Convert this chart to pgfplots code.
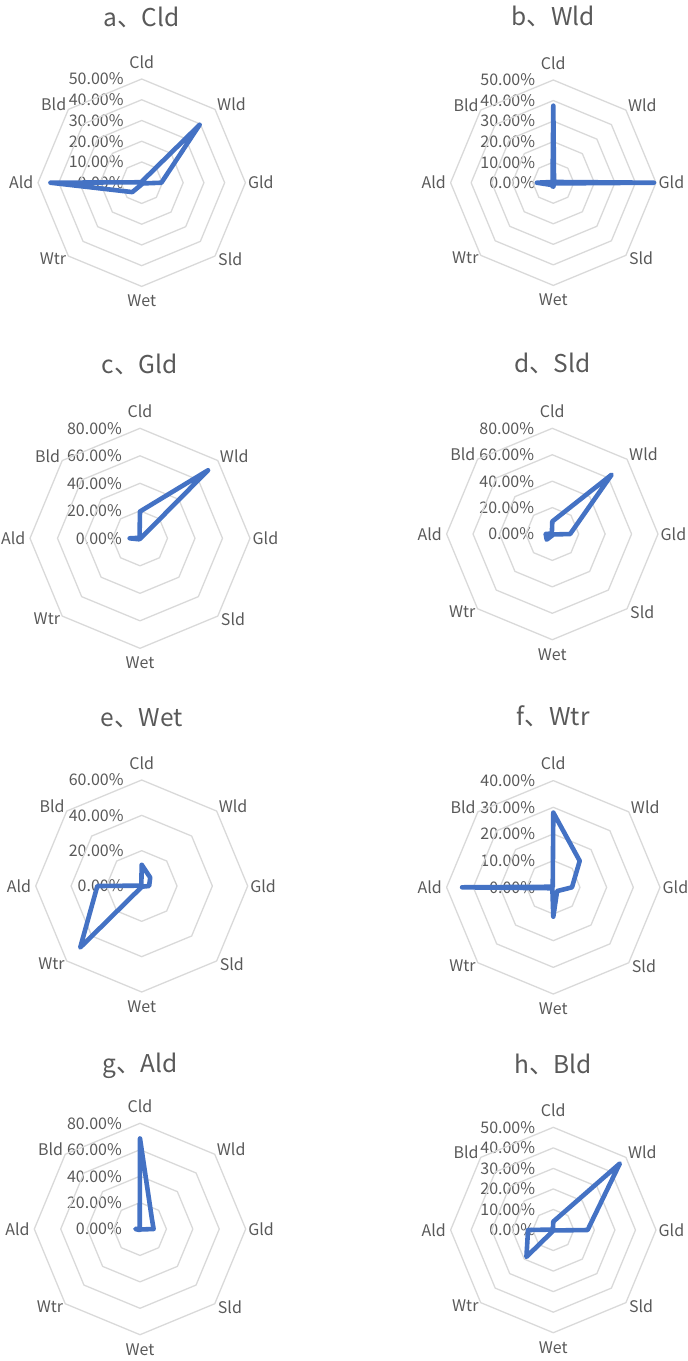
\documentclass[border=0pt]{standalone}
\usepackage{fontspec}
\usepackage{pgfplots}
\pgfplotsset{compat=1.18}
\usetikzlibrary{calc}
\newfontfamily\cjk{Noto Sans CJK SC}
\definecolor{txt}{HTML}{595959}
\definecolor{ringc}{HTML}{D9D9D9}
\definecolor{ser}{HTML}{4472C4}
\newcommand{\lf}{\cjk\fontsize{16}{18}\selectfont}
% #1 cx, #2 cy, #3 R, #4 max, #5 step, #6 title baseline y, #7 title, #8 data
\newcommand{\radar}[8]{%
  \pgfmathsetmacro\U{#3/#4}%
  \pgfmathsetmacro\V{0.7071*#3}%
  \pgfmathtruncatemacro\stepb{2*#5}%
  \coordinate (C) at (#1pt,-#2pt);
  \node[anchor=base, font=\cjk\fontsize{24.5}{28}\selectfont, text=txt, inner sep=0pt] at (#1pt,-#6pt) {#7};
  \foreach \v in {0,#5,...,#4} {%
    \pgfmathsetmacro\yy{-#2+\v*\U}%
    \node[anchor=east, font=\lf, text=txt, inner sep=0pt] at (#1pt-18pt,\yy pt) {\v.00\%};
  }
  \begin{axis}[at={(C)}, anchor=center, x=\U pt, y=\U pt,
    xmin=-#4, xmax=#4, ymin=-#4, ymax=#4, hide axis, clip=false, data cs=polar]
    \pgfplotsinvokeforeach{#5,\stepb,...,#4}{%
      \addplot[ringc, line width=1.3pt, line join=round, line cap=round, mark=none]
        coordinates {(90,##1) (45,##1) (0,##1) (-45,##1) (-90,##1) (-135,##1) (180,##1) (135,##1) (90,##1)};
    }
    \addplot[ser, line width=4.6pt, line join=round, line cap=round, mark=none] coordinates {#8};
  \end{axis}
  \node[anchor=base, font=\lf, text=txt, inner sep=0pt] at ($(C)+(0pt,#3pt+11pt)$) {Cld};
  \node[anchor=base west, font=\lf, text=txt, inner sep=0pt] at ($(C)+(\V pt+2pt,\V pt-1.5pt)$) {Wld};
  \node[anchor=west, font=\lf, text=txt, inner sep=0pt] at ($(C)+(#3pt+2.5pt,0pt)$) {Gld};
  \node[anchor=north west, font=\lf, text=txt, inner sep=0pt] at ($(C)+(\V pt+3pt,-\V pt+3.5pt)$) {Sld};
  \node[anchor=north, font=\lf, text=txt, inner sep=0pt] at ($(C)+(0pt,-#3pt-8.5pt)$) {Wet};
  \node[anchor=north east, font=\lf, text=txt, inner sep=0pt] at ($(C)+(-\V pt-2pt,-\V pt+3.5pt)$) {Wtr};
  \node[anchor=east, font=\lf, text=txt, inner sep=0pt] at ($(C)+(-#3pt-4.5pt,0pt)$) {Ald};
  \node[anchor=base east, font=\lf, text=txt, inner sep=0pt] at ($(C)+(-\V pt-2pt,\V pt-1.5pt)$) {Bld};
}
\begin{document}
\begin{tikzpicture}
\useasboundingbox (0,0) rectangle (688pt,-1361pt);
\radar{141.7}{182.7}{103.7}{50}{10}{26}{a、Cld}{(90,0.5) (45,39.5) (0,9.5) (-45,0.5) (-90,0.8) (-135,6.4) (180,44) (135,0.3) (90,0.5)}
\radar{553.3}{182.7}{102.7}{50}{10}{25}{b、Wld}{(90,37.5) (45,0.5) (0,49) (-45,0.5) (-90,2) (-135,1.5) (180,8) (135,0.5) (90,37.5)}
\radar{140}{538.3}{110}{80}{20}{373}{c、Gld}{(90,19.5) (45,70) (0,0.5) (-45,0.3) (-90,0.3) (-135,1) (180,7.5) (135,0.5) (90,19.5)}
\radar{552.3}{534}{105.7}{80}{20}{372}{d、Sld}{(90,9.5) (45,63.5) (0,13.5) (-45,0.5) (-90,1) (-135,6) (180,5) (135,0.5) (90,9.5)}
\radar{141.7}{886}{106}{60}{20}{726}{e、Wet}{(90,12) (45,6.8) (0,4.2) (-45,0.5) (-90,0.5) (-135,49.2) (180,25.1) (135,0.3) (90,12)}
\radar{553.3}{887.3}{106.7}{40}{10}{725}{f、Wtr}{(90,28) (45,14) (0,7) (-45,2) (-90,11) (-135,0.5) (180,34.2) (135,0.3) (90,28)}
\radar{140}{1229}{105.7}{80}{20}{1072}{g、Ald}{(90,68.5) (45,12.5) (0,10.3) (-45,0.5) (-90,0.5) (-135,1) (180,3.5) (135,0.3) (90,68.5)}
\radar{553.3}{1230}{102.7}{50}{10}{1073}{h、Bld}{(90,4.1) (45,45.8) (0,16.7) (-45,0.3) (-90,0.3) (-135,18.5) (180,12.3) (135,0.3) (90,4.1)}
\end{tikzpicture}
\end{document}
